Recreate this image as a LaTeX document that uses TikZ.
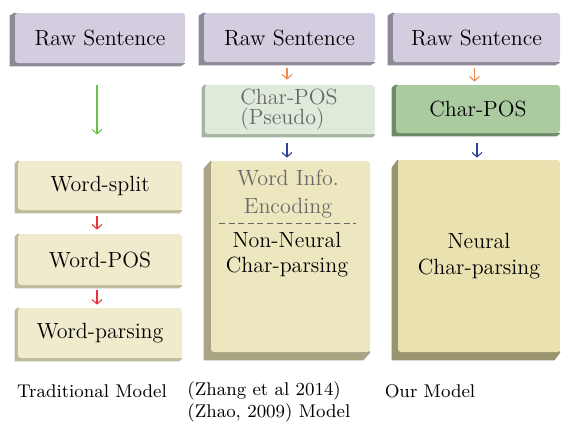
\documentclass[tikz,border=0pt]{standalone}
\usetikzlibrary{arrows.meta,backgrounds}
\definecolor{rawface}{RGB}{211,205,223}
\definecolor{rawside}{RGB}{142,137,153}
\definecolor{pseface}{RGB}{222,234,218}
\definecolor{pseside}{RGB}{165,182,160}
\definecolor{cpface}{RGB}{170,203,160}
\definecolor{cpside}{RGB}{110,138,104}
\definecolor{wface}{RGB}{239,235,204}
\definecolor{wside}{RGB}{190,186,155}
\definecolor{bigface}{RGB}{237,231,192}
\definecolor{bigside}{RGB}{168,164,132}
\definecolor{neuface}{RGB}{233,226,176}
\definecolor{neuside}{RGB}{154,148,112}
\definecolor{agreen}{RGB}{108,192,74}
\definecolor{ared}{RGB}{232,51,58}
\definecolor{aorange}{RGB}{240,138,75}
\definecolor{ablue}{RGB}{46,63,154}
\definecolor{softtext}{RGB}{105,105,105}
\tikzset{
  tdface/.style={rectangle, rounded corners=1.5pt, inner sep=0pt, text=black,
    font=\fontsize{11}{13}\selectfont, align=center},
  flow/.style={-{Straight Barb[length=2.2pt,width=5pt]}, line width=0.55pt},
  caption/.style={font=\fontsize{9.2}{11}\selectfont, inner sep=0pt, align=left}
}
\newcommand\tdbox[9]{%
  \node[tdface, fill=#8face, minimum width={#4*0.5pt}, minimum height={#5*0.5pt}] (#1) at (#2,#3) {#9};
  \begin{scope}[on background layer]
    \fill[#8side] (#1.north west) -- ++({-#6*0.5pt},{-#7*0.5pt})
      -- ([shift={({-#6*0.5pt},{-#7*0.5pt})}]#1.south west)
      -- ([shift={({-#6*0.5pt},{-#7*0.5pt})}]#1.south east)
      -- (#1.south east) -- cycle;
  \end{scope}}
\begin{document}
\begin{tikzpicture}[x=0.5pt,y=-0.5pt]
\useasboundingbox (0,0) rectangle (563,424);
% row 1
\tdbox{raw1}{100}{38}{170}{50}{5}{3}{raw}{Raw Sentence}
\tdbox{raw2}{289.5}{37.5}{171}{49}{5}{3}{raw}{Raw Sentence}
\tdbox{raw3}{476.5}{37.5}{167}{49}{5}{3}{raw}{Raw Sentence}
% row 2
\tdbox{cpp}{290}{109.5}{170}{49}{3}{3}{pse}{}
\node[font=\fontsize{11}{10}\selectfont, align=left, text=softtext, inner sep=0pt] (cpptext) at (289,110) {Char-POS\\(Pseudo)};
\tdbox{cp}{478}{109}{164}{48}{4}{3}{cp}{Char-POS}
% traditional column
\tdbox{ws}{100}{185.5}{164}{49}{3}{3}{w}{Word-split}
\tdbox{wp}{100}{259.5}{164}{51}{3}{3}{w}{Word-POS}
\tdbox{wpar}{100}{333}{164}{50}{3}{3}{w}{Word-parsing}
% big boxes
\tdbox{big2}{290.5}{256.5}{159}{191}{7}{8}{big}{}
\tdbox{big3}{479}{256}{162}{192}{6}{8}{neu}{Neural\\Char-parsing}
\node[font=\fontsize{11}{14}\selectfont, align=center, text=softtext, inner sep=0pt] (wie) at (288,194) {Word Info.\\Encoding};
\coordinate (dl) at (219,223);
\coordinate (dr) at (356,223);
\draw[gray!80!black, line width=0.5pt, dash pattern=on 3pt off 1.8pt] (dl) -- (dr);
\node[font=\fontsize{11}{12.5}\selectfont, align=center, inner sep=0pt] (nn) at (287,255) {Non-Neural\\Char-parsing};
% arrows
\draw[flow, agreen, shorten <=11pt, shorten >=13pt] ([xshift=-1.5pt]raw1.south) -- ([xshift=-1.5pt]ws.north);
\draw[flow, ared, shorten <=3pt, shorten >=2pt] ([xshift=-1.5pt]ws.south) -- ([xshift=-1.5pt]wp.north);
\draw[flow, ared, shorten <=2.5pt, shorten >=1.5pt] ([xshift=-1.5pt]wp.south) -- ([xshift=-1.5pt]wpar.north);
\draw[flow, aorange, shorten <=3pt, shorten >=2.5pt] ([xshift=-1.25pt]raw2.south) -- ([xshift=-1.25pt]raw2.south |- cpp.north);
\draw[flow, aorange, shorten <=3pt, shorten >=1.5pt] ([xshift=-1pt]raw3.south) -- ([xshift=-1pt]raw3.south |- cp.north);
\draw[flow, ablue, shorten <=4.5pt, shorten >=1.5pt] ([xshift=-1.5pt]cpp.south) -- ([xshift=-1.5pt]cpp.south |- big2.north);
\draw[flow, ablue, shorten <=5pt, shorten >=1pt] ([xshift=-0.5pt]cp.south) -- ([xshift=-0.5pt]cp.south |- big3.north);
% captions
\node[caption] (c1) at (92,391) {Traditional Model};
\node[caption, anchor=west] (c2) at (187,402) {(Zhang et al 2014)\\(Zhao, 2009) Model};
\node[caption] (c3) at (430,391) {Our Model};
\end{tikzpicture}
\end{document}
